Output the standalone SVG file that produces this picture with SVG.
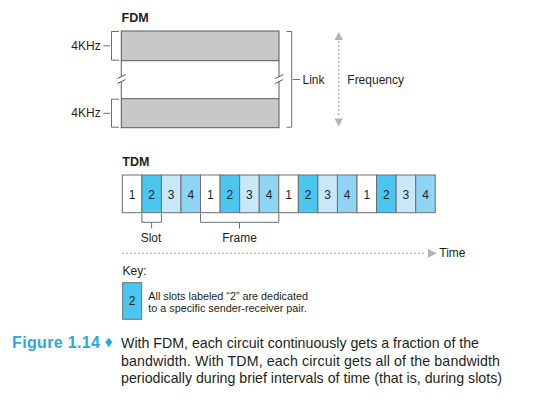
<svg xmlns="http://www.w3.org/2000/svg" width="544" height="402" viewBox="0 0 544 402">
<defs>
<style>
text{font-family:"Liberation Sans",Arial,sans-serif;fill:#231f20}
.lbl{font-size:12px}
.hd{font-size:12.5px;font-weight:bold}
.num{font-size:12px;text-anchor:middle}
.key{font-size:10.8px}
.br{fill:none;stroke:#6d6e71;stroke-width:1}
.band{fill:#c8c8ca;stroke:#58595b;stroke-width:1}
.edge{fill:none;stroke:#58595b;stroke-width:1}
.cell{stroke:#6d6e71;stroke-width:1}
.c1{fill:#ffffff}.c2{fill:#4ac6f0}.c3{fill:#c8e8f8}.c4{fill:#8ed4f4}
.dot{fill:none;stroke:#b1b3b6;stroke-width:1.8;stroke-linecap:round;stroke-dasharray:0 4}
.ah{fill:#b1b3b6}
.cap{font-family:"Liberation Sans",Arial,sans-serif;font-size:14.2px}
.fig{font-family:"Liberation Sans",Arial,sans-serif;font-size:16px;font-weight:900;fill:#29a9e0}
</style>
</defs>

<g id="fdm">
<text class="hd" x="121.5" y="21.5">FDM</text>
<rect class="band" x="121.3" y="31" width="157.7" height="29.7"/>
<rect class="band" x="121.3" y="98.7" width="157.7" height="29"/>
<path class="edge" d="M121.3 60.7V76.5M121.3 81.5V98.7M279 60.7V76.5M279 81.5V98.7"/>
<path class="edge" d="M117.5 78.5L125.5 74.5M117.5 83.5L125.5 79.5M275.2 78.5L283.2 74.5M275.2 83.5L283.2 79.5"/>
<path class="br" d="M119 31.5H111.5V60.2H119M119 99.2H111.5V127.2H119"/>
<path class="br" d="M103.3 45.8H110M103.3 113.3H110"/>
<text class="lbl" x="100.7" y="49.8" text-anchor="end">4KHz</text>
<text class="lbl" x="100.7" y="117.3" text-anchor="end">4KHz</text>
<path class="br" d="M286.5 31.5H291.7V127.2H286.5M292.7 79.5H300"/>
<text class="lbl" x="302.5" y="83.5">Link</text>
</g>

<g id="frequency">
<path class="dot" d="M338.7 42V117"/>
<path class="ah" d="M338.7 32L334.5 40H342.9Z"/>
<path class="ah" d="M338.7 126.5L334.5 118.5H342.9Z"/>
<text class="lbl" x="347.3" y="83.5">Frequency</text>
</g>

<g id="tdm">
<text class="hd" x="122.3" y="166">TDM</text>
<g id="slots">
<rect class="cell c1" x="122.3" y="175" width="19.56" height="37.7"/>
<rect class="cell c2" x="141.86" y="175" width="19.56" height="37.7"/>
<rect class="cell c3" x="161.42" y="175" width="19.56" height="37.7"/>
<rect class="cell c4" x="180.98" y="175" width="19.56" height="37.7"/>
<rect class="cell c1" x="200.54" y="175" width="19.56" height="37.7"/>
<rect class="cell c2" x="220.1" y="175" width="19.56" height="37.7"/>
<rect class="cell c3" x="239.66" y="175" width="19.56" height="37.7"/>
<rect class="cell c4" x="259.22" y="175" width="19.56" height="37.7"/>
<rect class="cell c1" x="278.78" y="175" width="19.56" height="37.7"/>
<rect class="cell c2" x="298.34" y="175" width="19.56" height="37.7"/>
<rect class="cell c3" x="317.9" y="175" width="19.56" height="37.7"/>
<rect class="cell c4" x="337.46" y="175" width="19.56" height="37.7"/>
<rect class="cell c1" x="357.02" y="175" width="19.56" height="37.7"/>
<rect class="cell c2" x="376.58" y="175" width="19.56" height="37.7"/>
<rect class="cell c3" x="396.14" y="175" width="19.56" height="37.7"/>
<rect class="cell c4" x="415.7" y="175" width="19.56" height="37.7"/>
<text class="num" x="132.1" y="198.5">1</text>
<text class="num" x="151.6" y="198.5">2</text>
<text class="num" x="171.2" y="198.5">3</text>
<text class="num" x="190.8" y="198.5">4</text>
<text class="num" x="210.3" y="198.5">1</text>
<text class="num" x="229.9" y="198.5">2</text>
<text class="num" x="249.4" y="198.5">3</text>
<text class="num" x="269" y="198.5">4</text>
<text class="num" x="288.6" y="198.5">1</text>
<text class="num" x="308.1" y="198.5">2</text>
<text class="num" x="327.7" y="198.5">3</text>
<text class="num" x="347.2" y="198.5">4</text>
<text class="num" x="366.8" y="198.5">1</text>
<text class="num" x="386.4" y="198.5">2</text>
<text class="num" x="405.9" y="198.5">3</text>
<text class="num" x="425.5" y="198.5">4</text>
</g>
<path class="br" d="M141.9 213.5V222.3H161.4V213.5M151.6 222.3V228.5"/>
<text class="lbl" x="151" y="241.7" text-anchor="middle">Slot</text>
<path class="br" d="M200.5 213.5V222.3H278.8V213.5M239.5 222.3V228.5"/>
<text class="lbl" x="239.5" y="241.7" text-anchor="middle">Frame</text>
</g>

<g id="time">
<path class="dot" d="M123 253.3H426"/>
<path class="ah" d="M436.7 253.3L428 248.8V257.8Z"/>
<text class="lbl" x="439.3" y="257.3">Time</text>
</g>

<g id="key">
<text class="lbl" x="122.5" y="275">Key:</text>
<rect class="cell c2" x="122.7" y="282.7" width="19" height="36.6"/>
<text class="num" x="132.2" y="305">2</text>
<text class="key" x="148.3" y="300">All slots labeled “2” are dedicated</text>
<text class="key" x="148.3" y="312">to a specific sender-receiver pair.</text>
</g>

<g id="caption">
<text class="fig" x="12" y="348.3" textLength="88" lengthAdjust="spacing">Figure 1.14</text>
<text class="fig" x="104.5" y="347.3" font-size="11px">♦</text>
<text class="cap" x="121" y="348.3" textLength="358" lengthAdjust="spacing">With FDM, each circuit continuously gets a fraction of the</text>
<text class="cap" x="121" y="366.3" textLength="379" lengthAdjust="spacing">bandwidth. With TDM, each circuit gets all of the bandwidth</text>
<text class="cap" x="121" y="383.3" textLength="381" lengthAdjust="spacing">periodically during brief intervals of time (that is, during slots)</text>
</g>
</svg>
